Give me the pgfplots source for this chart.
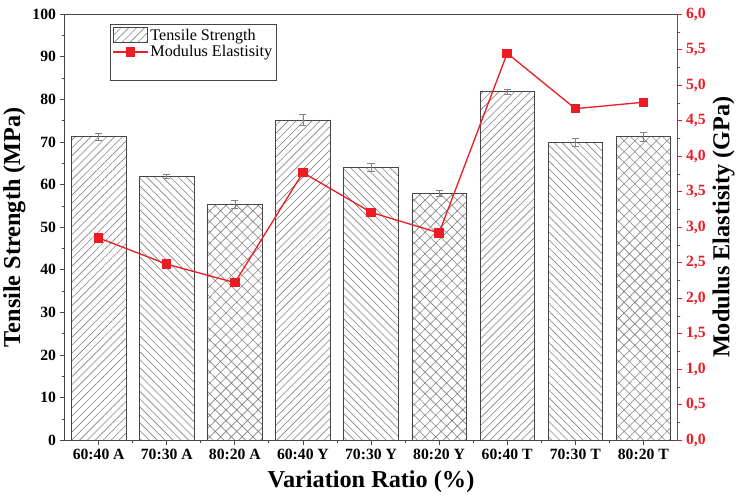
\documentclass[border=0pt]{standalone}
\usepackage{fontspec}
\setmainfont{Liberation Serif}
\usepackage{pgfplots}
\usepackage{pgfplotstable}
\pgfplotsset{compat=1.18}
\usetikzlibrary{patterns.meta}

\definecolor{modred}{RGB}{236,28,36}
\definecolor{hatchgray}{RGB}{130,130,130}
\definecolor{framegray}{RGB}{70,70,70}

% tensile strength (MPa) with standard deviation, one table per ratio
\pgfplotstableread{
x y e
0 71.3 0.8
3 75.2 1.2
6 81.8 0.6
}\ratioA
\pgfplotstableread{
x y e
1 62.0 0.5
4 64.1 1.0
7 70.0 0.9
}\ratioB
\pgfplotstableread{
x y e
2 55.4 1.0
5 57.9 0.7
8 71.3 1.1
}\ratioC
% modulus of elasticity (GPa)
\pgfplotstableread{
x y
0 2.85
1 2.48
2 2.22
3 3.77
4 3.21
5 2.92
6 5.45
7 4.67
8 4.76
}\modulus

\pgfplotsset{
  barstyle/.style={ybar, bar width=0.8, bar shift=0pt, draw=framegray, line width=0.7pt,
    error bars/y dir=both, error bars/y explicit,
    error bars/error bar style={hatchgray, line width=0.6pt},
    error bars/error mark options={rotate=90, mark size=3.5bp, hatchgray, line width=0.6pt}},
  patchlegend/.style={legend image code/.code={%
    \draw[##1] (0bp,-7bp) rectangle (34bp,8bp);}},
  linelegend/.style={legend image code/.code={%
    \draw[mark repeat=2, mark phase=2, ##1] plot coordinates {(0bp,0bp) (17bp,0bp) (34bp,0bp)};}},
}

\begin{document}
\begin{tikzpicture}
\begin{axis}[
  scale only axis, width=604bp, height=420bp,
  xmin=-0.5, xmax=8.5, ymin=0, ymax=100,
  xtick={0,...,8},
  xticklabels={60:40 A,70:30 A,80:20 A,60:40 Y,70:30 Y,80:20 Y,60:40 T,70:30 T,80:20 T},
  minor xtick={0.5,1.5,...,7.5},
  ytick={0,10,...,100}, minor ytick={5,15,...,95},
  xtick pos=bottom, ytick pos=left, tick align=outside,
  major tick length=5bp, minor tick length=3bp,
  axis line style={framegray, line width=0.8pt},
  tick style={framegray, line width=0.8pt},
  /pgf/number format/assume math mode=true,
  tick label style={font=\fontsize{15.5}{17}\selectfont\bfseries},
  label style={font=\fontsize{24}{27}\selectfont\bfseries},
  xlabel={Variation Ratio (\%)},
  ylabel={Tensile Strength (MPa)},
  xlabel style={yshift=-4bp},
  legend style={at={(0.0745,0.976)}, anchor=north west, draw=framegray, line width=0.6pt,
    font=\fontsize{16}{18}\selectfont, row sep=0bp, inner sep=2bp,
    cells={anchor=west}},
  legend cell align=left,
]
\addplot[barstyle, patchlegend, pattern={Lines[angle=45, distance=5.5bp, line width=0.6pt]}, pattern color=hatchgray]
  table[x=x, y=y, y error=e] {\ratioA};
\addlegendentry{Tensile Strength}
\addplot[barstyle, forget plot, pattern={Lines[angle=-45, distance=5.5bp, line width=0.6pt]}, pattern color=hatchgray]
  table[x=x, y=y, y error=e] {\ratioB};
\addplot[barstyle, forget plot, pattern={Hatch[angle=45, distance=7.5bp, line width=0.6pt]}, pattern color=hatchgray]
  table[x=x, y=y, y error=e] {\ratioC};
\addlegendimage{modred, line width=1.3pt, mark=square*, mark size=4bp, linelegend}
\addlegendentry{Modulus Elastisity}
\addlegendimage{empty legend}
\addlegendentry{\strut}
\end{axis}

\begin{axis}[
  scale only axis, width=604bp, height=420bp,
  xmin=-0.5, xmax=8.5, ymin=0, ymax=6,
  axis x line=none, axis y line*=right,
  ytick={0,0.5,...,6}, minor ytick={0.25,0.75,...,5.75},
  tick align=outside, major tick length=5bp, minor tick length=3bp,
  y axis line style={modred, line width=0.8pt},
  ytick style={modred, line width=0.8pt},
  yticklabel style={modred, font=\fontsize{15.5}{17}\selectfont\bfseries,
    /pgf/number format/.cd, fixed, fixed zerofill, precision=1, use comma},
  /pgf/number format/assume math mode=true,
  ylabel={Modulus Elastisity (GPa)},
  ylabel style={font=\fontsize{24}{27}\selectfont\bfseries, black},
]
\addplot[modred, line width=1.3pt, mark=square*, mark size=4bp] table[x=x, y=y] {\modulus};
\end{axis}
% white margin above the frame
\path ([yshift=14bp]current axis.north);
\end{tikzpicture}
\end{document}
